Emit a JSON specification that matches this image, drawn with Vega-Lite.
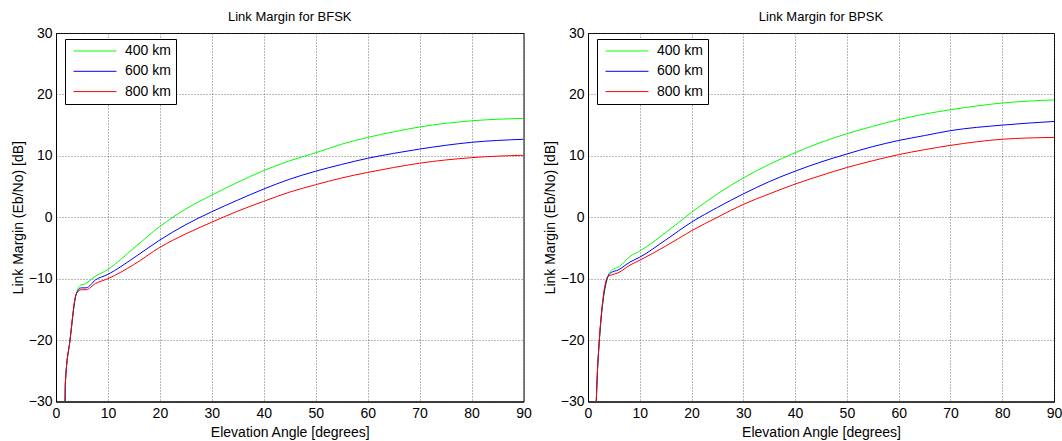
{
  "$schema": "https://vega.github.io/schema/vega-lite/v6.json",
  "padding": {"left": 10, "top": 10, "right": 5, "bottom": 5},
  "background": "white",
  "data": {"values": [
    {"panel":"BFSK","alt":"400 km","x":1.75,"y":-30},{"panel":"BFSK","alt":"400 km","x":1.8,"y":-27},{"panel":"BFSK","alt":"400 km","x":2.7,"y":-20},{"panel":"BFSK","alt":"400 km","x":3.9,"y":-12.5},{"panel":"BFSK","alt":"400 km","x":4.85,"y":-11.0},{"panel":"BFSK","alt":"400 km","x":5.5,"y":-10.9},{"panel":"BFSK","alt":"400 km","x":7.4,"y":-9.7},{"panel":"BFSK","alt":"400 km","x":10,"y":-8.5},{"panel":"BFSK","alt":"400 km","x":15,"y":-5.0},{"panel":"BFSK","alt":"400 km","x":20,"y":-1.5},{"panel":"BFSK","alt":"400 km","x":25,"y":1.35},{"panel":"BFSK","alt":"400 km","x":30,"y":3.6},{"panel":"BFSK","alt":"400 km","x":35,"y":5.7},{"panel":"BFSK","alt":"400 km","x":40,"y":7.6},{"panel":"BFSK","alt":"400 km","x":45,"y":9.2},{"panel":"BFSK","alt":"400 km","x":50,"y":10.5},{"panel":"BFSK","alt":"400 km","x":55,"y":11.9},{"panel":"BFSK","alt":"400 km","x":60,"y":13.0},{"panel":"BFSK","alt":"400 km","x":65,"y":13.9},{"panel":"BFSK","alt":"400 km","x":70,"y":14.7},{"panel":"BFSK","alt":"400 km","x":80,"y":15.7},{"panel":"BFSK","alt":"400 km","x":90,"y":16.1},
    {"panel":"BFSK","alt":"600 km","x":1.75,"y":-30},{"panel":"BFSK","alt":"600 km","x":1.8,"y":-27},{"panel":"BFSK","alt":"600 km","x":2.7,"y":-20},{"panel":"BFSK","alt":"600 km","x":3.9,"y":-12.5},{"panel":"BFSK","alt":"600 km","x":4.85,"y":-11.5},{"panel":"BFSK","alt":"600 km","x":5.8,"y":-11.5},{"panel":"BFSK","alt":"600 km","x":7.6,"y":-10.2},{"panel":"BFSK","alt":"600 km","x":10,"y":-9.3},{"panel":"BFSK","alt":"600 km","x":15,"y":-6.6},{"panel":"BFSK","alt":"600 km","x":20,"y":-3.7},{"panel":"BFSK","alt":"600 km","x":25,"y":-1.2},{"panel":"BFSK","alt":"600 km","x":30,"y":0.9},{"panel":"BFSK","alt":"600 km","x":35,"y":2.8},{"panel":"BFSK","alt":"600 km","x":40,"y":4.6},{"panel":"BFSK","alt":"600 km","x":45,"y":6.2},{"panel":"BFSK","alt":"600 km","x":50,"y":7.5},{"panel":"BFSK","alt":"600 km","x":55,"y":8.6},{"panel":"BFSK","alt":"600 km","x":60,"y":9.6},{"panel":"BFSK","alt":"600 km","x":65,"y":10.4},{"panel":"BFSK","alt":"600 km","x":70,"y":11.1},{"panel":"BFSK","alt":"600 km","x":80,"y":12.2},{"panel":"BFSK","alt":"600 km","x":90,"y":12.7},
    {"panel":"BFSK","alt":"800 km","x":1.75,"y":-30},{"panel":"BFSK","alt":"800 km","x":1.8,"y":-27},{"panel":"BFSK","alt":"800 km","x":2.7,"y":-20},{"panel":"BFSK","alt":"800 km","x":3.9,"y":-12.5},{"panel":"BFSK","alt":"800 km","x":4.85,"y":-11.8},{"panel":"BFSK","alt":"800 km","x":5.8,"y":-11.8},{"panel":"BFSK","alt":"800 km","x":7.6,"y":-10.8},{"panel":"BFSK","alt":"800 km","x":10,"y":-10.0},{"panel":"BFSK","alt":"800 km","x":15,"y":-7.7},{"panel":"BFSK","alt":"800 km","x":20,"y":-4.9},{"panel":"BFSK","alt":"800 km","x":25,"y":-2.7},{"panel":"BFSK","alt":"800 km","x":30,"y":-0.8},{"panel":"BFSK","alt":"800 km","x":35,"y":1.0},{"panel":"BFSK","alt":"800 km","x":40,"y":2.6},{"panel":"BFSK","alt":"800 km","x":45,"y":4.1},{"panel":"BFSK","alt":"800 km","x":50,"y":5.3},{"panel":"BFSK","alt":"800 km","x":55,"y":6.4},{"panel":"BFSK","alt":"800 km","x":60,"y":7.3},{"panel":"BFSK","alt":"800 km","x":65,"y":8.1},{"panel":"BFSK","alt":"800 km","x":70,"y":8.8},{"panel":"BFSK","alt":"800 km","x":80,"y":9.7},{"panel":"BFSK","alt":"800 km","x":90,"y":10.1},
    {"panel":"BPSK","alt":"400 km","x":1.6,"y":-30},{"panel":"BPSK","alt":"400 km","x":1.9,"y":-23.8},{"panel":"BPSK","alt":"400 km","x":3.87,"y":-9.6},{"panel":"BPSK","alt":"400 km","x":4.5,"y":-8.7},{"panel":"BPSK","alt":"400 km","x":6.1,"y":-8.0},{"panel":"BPSK","alt":"400 km","x":8.1,"y":-6.4},{"panel":"BPSK","alt":"400 km","x":10,"y":-5.5},{"panel":"BPSK","alt":"400 km","x":15,"y":-2.5},{"panel":"BPSK","alt":"400 km","x":20,"y":0.8},{"panel":"BPSK","alt":"400 km","x":25,"y":3.8},{"panel":"BPSK","alt":"400 km","x":30,"y":6.4},{"panel":"BPSK","alt":"400 km","x":35,"y":8.6},{"panel":"BPSK","alt":"400 km","x":40,"y":10.5},{"panel":"BPSK","alt":"400 km","x":45,"y":12.2},{"panel":"BPSK","alt":"400 km","x":50,"y":13.6},{"panel":"BPSK","alt":"400 km","x":55,"y":14.8},{"panel":"BPSK","alt":"400 km","x":60,"y":15.9},{"panel":"BPSK","alt":"400 km","x":65,"y":16.8},{"panel":"BPSK","alt":"400 km","x":70,"y":17.5},{"panel":"BPSK","alt":"400 km","x":80,"y":18.6},{"panel":"BPSK","alt":"400 km","x":90,"y":19.1},
    {"panel":"BPSK","alt":"600 km","x":1.6,"y":-30},{"panel":"BPSK","alt":"600 km","x":1.9,"y":-23.8},{"panel":"BPSK","alt":"600 km","x":3.87,"y":-9.6},{"panel":"BPSK","alt":"600 km","x":4.5,"y":-9.0},{"panel":"BPSK","alt":"600 km","x":5.8,"y":-8.6},{"panel":"BPSK","alt":"600 km","x":8.1,"y":-7.3},{"panel":"BPSK","alt":"600 km","x":10,"y":-6.5},{"panel":"BPSK","alt":"600 km","x":15,"y":-3.7},{"panel":"BPSK","alt":"600 km","x":20,"y":-0.8},{"panel":"BPSK","alt":"600 km","x":25,"y":1.6},{"panel":"BPSK","alt":"600 km","x":30,"y":3.8},{"panel":"BPSK","alt":"600 km","x":35,"y":5.8},{"panel":"BPSK","alt":"600 km","x":40,"y":7.5},{"panel":"BPSK","alt":"600 km","x":45,"y":9.0},{"panel":"BPSK","alt":"600 km","x":50,"y":10.3},{"panel":"BPSK","alt":"600 km","x":55,"y":11.5},{"panel":"BPSK","alt":"600 km","x":60,"y":12.5},{"panel":"BPSK","alt":"600 km","x":65,"y":13.3},{"panel":"BPSK","alt":"600 km","x":70,"y":14.1},{"panel":"BPSK","alt":"600 km","x":80,"y":15.0},{"panel":"BPSK","alt":"600 km","x":90,"y":15.6},
    {"panel":"BPSK","alt":"800 km","x":1.6,"y":-30},{"panel":"BPSK","alt":"800 km","x":1.9,"y":-23.8},{"panel":"BPSK","alt":"800 km","x":3.87,"y":-9.6},{"panel":"BPSK","alt":"800 km","x":4.5,"y":-9.4},{"panel":"BPSK","alt":"800 km","x":5.8,"y":-9.05},{"panel":"BPSK","alt":"800 km","x":8.1,"y":-7.8},{"panel":"BPSK","alt":"800 km","x":10,"y":-7.0},{"panel":"BPSK","alt":"800 km","x":15,"y":-4.7},{"panel":"BPSK","alt":"800 km","x":20,"y":-2.2},{"panel":"BPSK","alt":"800 km","x":25,"y":0.0},{"panel":"BPSK","alt":"800 km","x":30,"y":2.1},{"panel":"BPSK","alt":"800 km","x":35,"y":3.8},{"panel":"BPSK","alt":"800 km","x":40,"y":5.4},{"panel":"BPSK","alt":"800 km","x":45,"y":6.8},{"panel":"BPSK","alt":"800 km","x":50,"y":8.1},{"panel":"BPSK","alt":"800 km","x":55,"y":9.2},{"panel":"BPSK","alt":"800 km","x":60,"y":10.2},{"panel":"BPSK","alt":"800 km","x":65,"y":11.0},{"panel":"BPSK","alt":"800 km","x":70,"y":11.7},{"panel":"BPSK","alt":"800 km","x":80,"y":12.7},{"panel":"BPSK","alt":"800 km","x":90,"y":13.0}
  ]},
  "spacing": 64,
  "bounds": "flush",
  "resolve": {"scale": {"color": "independent"}, "legend": {"color": "independent"}},
  "hconcat": [
    {
      "width": 467.5, "height": 368.5,
      "title": "Link Margin for BFSK",
      "transform": [{"filter": "datum.panel === 'BFSK'"}],
      "mark": {"type": "line", "strokeWidth": 1, "interpolate": "monotone", "clip": true},
      "encoding": {
        "x": {"field": "x", "type": "quantitative", "scale": {"domain": [0, 90], "nice": false}, "axis": {"values": [0,10,20,30,40,50,60,70,80,90], "title": "Elevation Angle [degrees]"}},
        "y": {"field": "y", "type": "quantitative", "scale": {"domain": [-30, 30], "nice": false}, "axis": {"values": [-30,-20,-10,0,10,20,30], "title": "Link Margin (Eb/No) [dB]"}},
        "color": {"field": "alt", "type": "nominal", "scale": {"domain": ["400 km","600 km","800 km"], "range": ["#00ff00","#0000ff","#ff0000"]}, "legend": {"orient": "none", "legendX": 9, "legendY": 6, "title": null}}
      }
    },
    {
      "width": 466, "height": 368.5,
      "title": "Link Margin for BPSK",
      "transform": [{"filter": "datum.panel === 'BPSK'"}],
      "mark": {"type": "line", "strokeWidth": 1, "interpolate": "monotone", "clip": true},
      "encoding": {
        "x": {"field": "x", "type": "quantitative", "scale": {"domain": [0, 90], "nice": false}, "axis": {"values": [0,10,20,30,40,50,60,70,80,90], "title": "Elevation Angle [degrees]"}},
        "y": {"field": "y", "type": "quantitative", "scale": {"domain": [-30, 30], "nice": false}, "axis": {"values": [-30,-20,-10,0,10,20,30], "title": "Link Margin (Eb/No) [dB]"}},
        "color": {"field": "alt", "type": "nominal", "scale": {"domain": ["400 km","600 km","800 km"], "range": ["#00ff00","#0000ff","#ff0000"]}, "legend": {"orient": "none", "legendX": 9, "legendY": 6, "title": null}}
      }
    }
  ],
  "config": {
    "font": "Liberation Sans",
    "view": {"stroke": "black", "strokeWidth": 1},
    "title": {"fontSize": 13, "fontWeight": "normal", "color": "black", "offset": 2},
    "axis": {
      "domainColor": "black", "domainWidth": 1,
      "labelColor": "black", "labelFontSize": 14, "labelPadding": 4,
      "labelFlush": false, "labelOverlap": false,
      "titleColor": "black", "titleFontSize": 14, "titleFontWeight": "normal",
      "ticks": false,
      "grid": true, "gridColor": "#444444", "gridDash": [1, 2], "gridOpacity": 0.75, "gridWidth": 1
    },
    "axisY": {"titlePadding": 3},
    "axisX": {"titlePadding": 5, "labelPadding": 5},
    "legend": {
      "symbolType": "stroke", "symbolSize": 1849, "symbolStrokeWidth": 1,
      "labelFontSize": 14, "labelColor": "black", "labelOffset": 8,
      "fillColor": "white", "strokeColor": "black", "padding": 5, "rowPadding": 6.3,
      "clipHeight": 14, "symbolOffset": 3
    }
  }
}
